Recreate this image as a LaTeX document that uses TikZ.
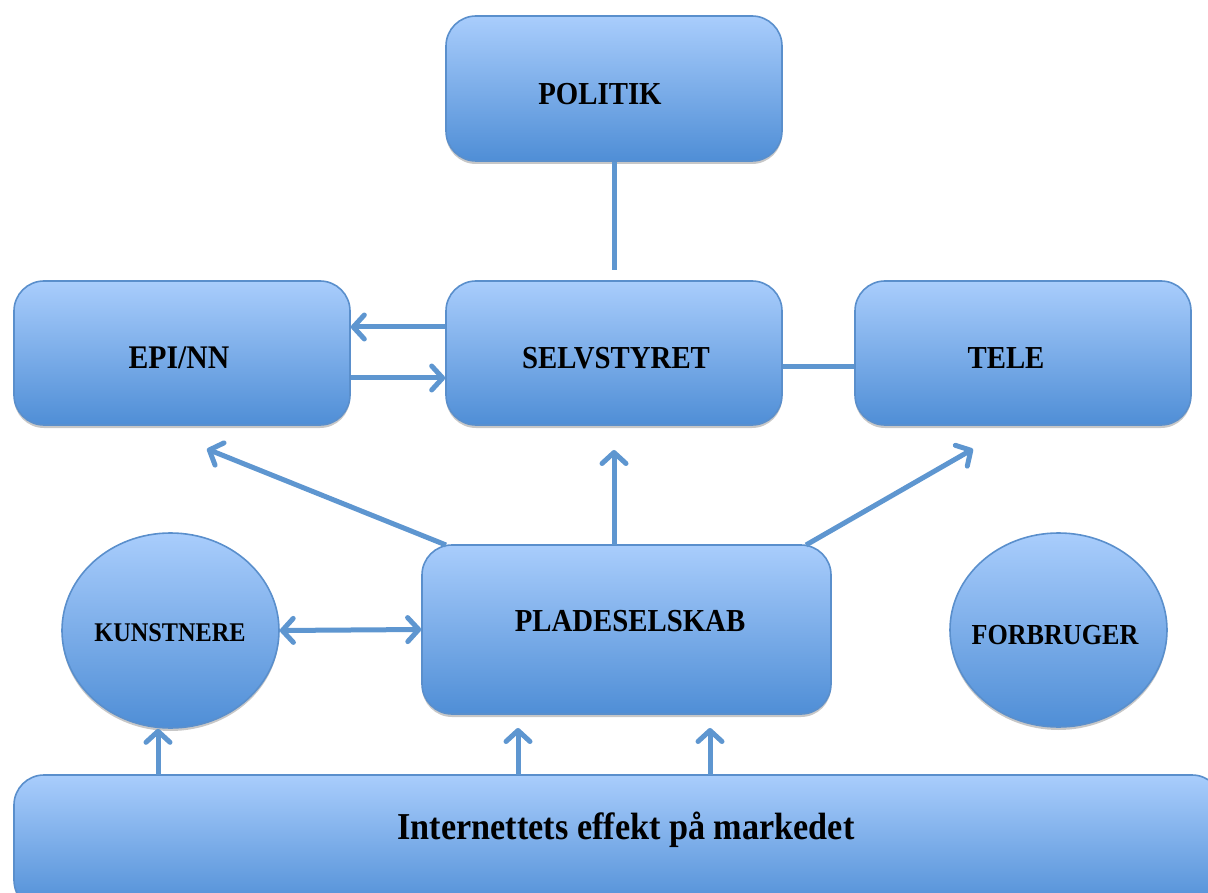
\documentclass[tikz,border=0pt]{standalone}
\usepackage{fontspec}
\setmainfont{Liberation Serif}[FakeStretch=0.9]
\usetikzlibrary{arrows.meta,shapes.geometric,shadows}

\definecolor{fillTop}{HTML}{A9CDFC}
\definecolor{fillBot}{HTML}{4F8ED6}
\definecolor{edgeBlue}{HTML}{5A8FCC}
\definecolor{lineBlue}{HTML}{5E96D0}

\tikzset{
  panel/.style={draw=edgeBlue, line width=1.6pt, top color=fillTop, bottom color=fillBot,
    drop shadow={shadow xshift=0pt, shadow yshift=-3pt, opacity=0.22, fill=black}},
  roundbox/.style={panel, rectangle, rounded corners=30pt, inner sep=0pt},
  bubble/.style={panel, ellipse, inner sep=0pt},
  lbl/.style={font=\bfseries\fontsize{32}{38}\selectfont, text=black, inner sep=0pt},
  link/.style={draw=lineBlue, line width=5pt},
  arrowlink/.style={link, -{Straight Barb[length=11pt,width=24pt,round]}},
  twoway/.style={link, {Straight Barb[length=11pt,width=24pt,round]}-{Straight Barb[length=11pt,width=24pt,round]}}
}

\begin{document}
\begin{tikzpicture}[x=1pt, y=-1pt]
\useasboundingbox (0,0) rectangle (1208,893);

% boxes and bubbles
\node[roundbox, minimum width=336pt, minimum height=145pt] (politik) at (614,88.5) {};
\node[roundbox, minimum width=336pt, minimum height=144pt] (selv) at (614,353) {};
\node[roundbox, minimum width=336pt, minimum height=144pt] (epi) at (182,353) {};
\node[roundbox, minimum width=336pt, minimum height=144pt] (tele) at (1023,353) {};
\node[roundbox, minimum width=409pt, minimum height=169pt] (plade) at (626.5,629.5) {};
\node[bubble, minimum width=217pt, minimum height=195pt] (kunst) at (170.5,630.5) {};
\node[bubble, minimum width=217pt, minimum height=194pt] (forb) at (1058.5,630) {};
\begin{scope}
  \clip (0,0) rectangle (1208,893);
  \node[roundbox, minimum width=1208pt, minimum height=135pt] (net) at (618,842.5) {};
\end{scope}

% labels
\node[lbl] (tPolitik) at (600,94) {POLITIK};
\node[lbl] (tSelv) at (616,358) {SELVSTYRET};
\node[lbl, font=\bfseries\fontsize{33}{39}\selectfont] (tEpi) at (179,358) {EPI/NN};
\node[lbl] (tTele) at (1006,358) {TELE};
\node[lbl] (tPlade) at (630,621) {PLADESELSKAB};
\node[lbl, font=\bfseries\fontsize{27}{32}\selectfont] (tKunst) at (170,633) {KUNSTNERE};
\node[lbl, font=\bfseries\fontsize{29}{34}\selectfont] (tForb) at (1055,635) {FORBRUGER};
\node[lbl, font=\bfseries\fontsize{38}{44}\selectfont] (tNet) at (626,830) {Internettets effekt på markedet};

% free ends of the connectors
\coordinate (politikEnd) at (614,270);
\coordinate (toEpi) at (207,449);
\coordinate (toSelv) at (614,450);
\coordinate (toTele) at (973,449);
\coordinate (fromPladeL) at (446,545);
\coordinate (fromPladeM) at (614,545);
\coordinate (fromPladeR) at (806,545);
\coordinate (netA) at (158,775);
\coordinate (netB) at (518,775);
\coordinate (netC) at (710,775);
\coordinate (upB) at (518,728);
\coordinate (upC) at (710,728);

% connectors
\draw[link] (politik.south) -- (politikEnd);
\draw[arrowlink] ([yshift=26pt]selv.west) -- ([yshift=26pt]epi.east);
\draw[arrowlink] ([yshift=-25pt]epi.east) -- ([yshift=-25pt]selv.west);
\draw[link] ([yshift=-14pt]selv.east) -- ([yshift=-14pt]tele.west);
\draw[arrowlink] (fromPladeL) -- (toEpi);
\draw[arrowlink] (fromPladeM) -- (toSelv);
\draw[arrowlink] (fromPladeR) -- (toTele);
\draw[twoway] (kunst.east) -- (plade.west);
\draw[arrowlink] (netA) -- (kunst.south -| netA);
\draw[arrowlink] (netB) -- (upB);
\draw[arrowlink] (netC) -- (upC);
\end{tikzpicture}
\end{document}
